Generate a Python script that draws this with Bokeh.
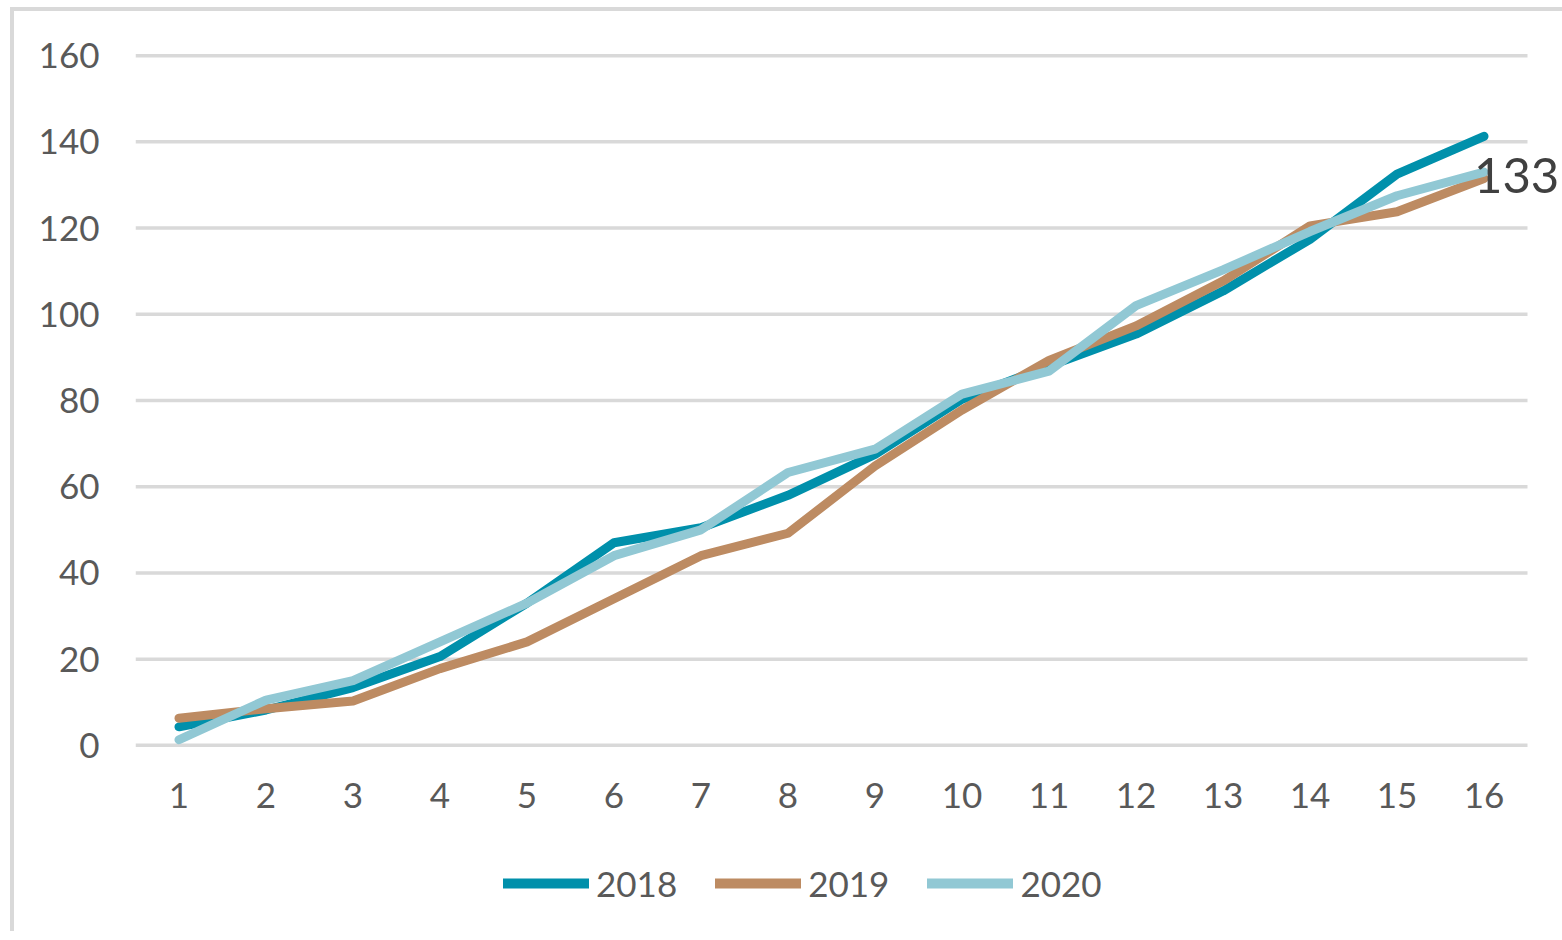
from bokeh.plotting import figure
from bokeh.layouts import column
from bokeh.models import Range1d, FixedTicker, Legend, LegendItem, Label
from bokeh.embed import file_html
from bokeh.resources import INLINE

weeks = list(range(1, 17))
y2018 = [4.3, 8.2, 13.4, 20.6, 33.0, 47.0, 50.5, 58.0, 67.5, 80.3, 88.0, 95.4, 105.4, 117.4, 132.5, 141.3]
y2019 = [6.3, 8.5, 10.3, 17.8, 24.0, 34.0, 44.0, 49.2, 64.8, 77.8, 89.3, 97.3, 107.7, 120.5, 123.8, 131.5]
y2020 = [1.3, 10.5, 15.0, 24.0, 33.0, 44.0, 50.0, 63.3, 68.7, 81.5, 86.8, 102.0, 110.3, 119.2, 127.5, 133.0]
series_names = ["2018", "2019", "2020"]
colors = ["#0090AB", "#BD8B62", "#91C8D4"]
y_ticks = [0, 20, 40, 60, 80, 100, 120, 140, 160]
end_label = "133"

FONT = "Lato"
TICK_COLOR = "#595959"
GRID_COLOR = "#D9D9D9"
LINE_W = 9

x_lo = weeks[0] - 0.5
x_hi = weeks[-1] + 0.5
series = [y2018, y2019, y2020]

W = 1548
p = figure(width=W, height=816, output_backend="svg", toolbar_location=None,
           x_range=Range1d(x_lo, x_lo + 1427 / 87.0), y_range=Range1d(-0.5, 160.5),
           min_border_left=121, min_border_right=0, min_border_top=42, min_border_bottom=80)
p.outline_line_color = None
p.background_fill_color = "white"
p.border_fill_color = "white"

# axes
p.xaxis.ticker = FixedTicker(ticks=weeks)
p.yaxis.ticker = FixedTicker(ticks=y_ticks)
for ax in (p.xaxis[0], p.yaxis[0]):
    ax.axis_line_color = None
    ax.major_tick_line_color = None
    ax.minor_tick_line_color = None
    ax.major_label_text_font = FONT
    ax.major_label_text_font_size = "35px"
    ax.major_label_text_color = TICK_COLOR
p.xaxis.major_label_standoff = 29
p.yaxis.major_label_standoff = 30

p.xgrid.grid_line_color = None
p.ygrid.grid_line_color = None
# horizontal gridlines limited to the category span
p.segment(x0=[x_lo] * len(y_ticks), x1=[x_hi] * len(y_ticks), y0=y_ticks, y1=y_ticks,
          line_color=GRID_COLOR, line_width=3.5, level="underlay")

for name, ys, c in zip(series_names, series, colors):
    p.line(weeks, ys, line_color=c, line_width=LINE_W, line_cap="round", line_join="round")

lbl = Label(x=weeks[-1], y=y2020[-1], text=end_label, x_offset=-10, y_offset=-3,
            text_baseline="middle", text_align="left", text_font=FONT,
            text_font_size="49px", text_color="#404040")
p.add_layout(lbl)

# legend strip below the chart (same series; their data lies outside this strip's ranges)
lg = figure(width=W, height=104, output_backend="svg", toolbar_location=None,
            x_range=Range1d(-10, -9), y_range=Range1d(-10, -9),
            x_axis_location=None, y_axis_location=None,
            min_border_left=0, min_border_right=0, min_border_top=0, min_border_bottom=0)
lg.outline_line_color = None
lg.xgrid.grid_line_color = None
lg.ygrid.grid_line_color = None
items = []
for name, ys, c in zip(series_names, series, colors):
    r = lg.line(weeks, ys, line_color=c, line_width=LINE_W + 1, line_cap="round")
    items.append(LegendItem(label=name, renderers=[r]))
legend = Legend(items=items, location=(368, 27), orientation="horizontal",
                glyph_width=86, glyph_height=40, label_standoff=7, spacing=38,
                padding=0, margin=0, border_line_color=None, background_fill_alpha=0,
                label_text_font=FONT, label_text_font_size="35px", label_text_color=TICK_COLOR)
lg.add_layout(legend, "center")

layout = column(p, lg, spacing=0)
layout.styles = {"border-left": "4px solid #D9D9D9", "border-top": "4px solid #D9D9D9",
                 "margin-left": "10px", "margin-top": "7px"}

open("out.html", "w").write(file_html(layout, INLINE))
